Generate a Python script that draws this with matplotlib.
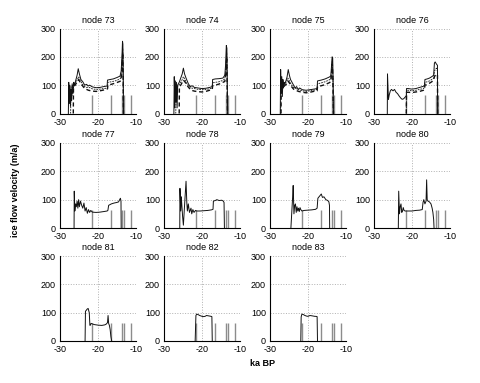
import numpy as np
import matplotlib
matplotlib.use('Agg')
import matplotlib.pyplot as plt

plt.rcParams['font.family'] = ['Liberation Sans', 'DejaVu Sans']
plt.rcParams['axes.unicode_minus'] = False

# grey marker bars (ka BP), same in every panel
bar_t = [-21.7, -16.6, -13.6, -13.1, -11.2]
bar_h = 65

# ---- node 73 ----
n73_solid_t = [-27.8, -27.7, -27.55, -27.4, -27.25, -27.1, -26.95, -26.8, -26.6, -26.4, -26.2, -25.9, -25.5,
               -25.2, -24.9, -24.5, -24.0, -23.5, -23.0, -22.6, -22.2, -21.5, -20.5, -19.5, -18.5, -17.6,
               -17.5, -16.8, -16.0, -15.0, -14.2, -13.9, -13.7, -13.55, -13.45, -13.35, -13.3]
n73_solid_v = [0, 110, 35, 100, 25, 85, 45, 105, 70, 110, 100, 115, 135, 158, 140, 120, 112, 100, 103, 97, 100,
               94, 91, 92, 95, 97, 118, 120, 122, 127, 132, 150, 200, 255, 245, 120, 0]
n73_mid_t = [-27.2, -27.1, -26.9, -26.7, -26.5, -26.2, -25.8, -25.4, -25.1, -24.7, -24.2, -23.5, -23.0, -22.5,
             -21.5, -20.5, -19.5, -18.5, -17.5, -17.4, -16.5, -15.5, -14.5, -14.0, -13.7, -13.5, -13.4, -13.3]
n73_mid_v = [0, 95, 60, 100, 90, 105, 110, 120, 130, 118, 105, 95, 92, 93, 87, 85, 86, 88, 90, 110, 112, 115,
             120, 125, 170, 230, 150, 0]
n73_dash_t = [-26.5, -26.45, -26.0, -25.5, -25.1, -24.7, -24.2, -23.5, -23.0, -22.5, -21.5, -20.5, -19.5, -18.5,
              -17.5, -17.4, -16.5, -15.5, -14.5, -14.0, -13.7, -13.5, -13.4, -13.3]
n73_dash_v = [0, 95, 100, 112, 120, 110, 100, 88, 85, 82, 79, 78, 80, 83, 87, 100, 103, 107, 112, 115, 150, 215,
              150, 0]

# ---- node 74 ----
n74_solid_t = [-27.4, -27.3, -27.15, -27.0, -26.85, -26.7, -26.55, -26.4, -26.2, -26.0, -25.6, -25.2, -24.9,
               -24.6, -24.2, -23.6, -23.1, -22.6, -22.0, -21.0, -20.0, -19.0, -18.0, -17.3, -17.2, -16.5, -15.5,
               -14.5, -14.0, -13.8, -13.6, -13.45, -13.35, -13.25]
n74_solid_v = [0, 130, 20, 115, 40, 110, 20, 100, 105, 110, 125, 140, 160, 140, 125, 105, 95, 98, 92, 90, 88, 89,
               92, 95, 120, 122, 123, 125, 135, 170, 240, 230, 100, 0]
n74_mid_t = [-26.9, -26.8, -26.5, -26.1, -25.6, -25.2, -24.9, -24.5, -24.0, -23.4, -22.8, -22.0, -21.0, -20.0,
             -19.0, -18.0, -17.3, -17.2, -16.5, -15.5, -14.5, -14.0, -13.7, -13.5, -13.4, -13.3]
n74_mid_v = [0, 90, 95, 100, 110, 120, 130, 120, 105, 95, 90, 88, 85, 84, 85, 87, 90, 108, 110, 112, 117, 122,
             160, 215, 140, 0]
n74_dash_t = [-26.0, -25.95, -25.6, -25.2, -24.9, -24.5, -24.0, -23.4, -22.8, -22.0, -21.0, -20.0, -19.0, -18.0,
              -17.3, -17.2, -16.5, -15.5, -14.5, -14.0, -13.7, -13.5, -13.4, -13.3]
n74_dash_v = [0, 95, 100, 110, 118, 112, 100, 90, 82, 79, 77, 76, 78, 82, 85, 98, 100, 104, 110, 113, 145, 200,
              130, 0]

# ---- node 75 ----
n75_solid_t = [-27.3, -27.2, -27.05, -26.9, -26.75, -26.6, -26.45, -26.3, -26.1, -25.8, -25.5, -25.2, -24.9,
               -24.6, -24.2, -23.8, -23.4, -23.0, -22.6, -22.2, -21.5, -20.5, -19.5, -18.5, -17.6, -17.5, -16.5,
               -15.5, -14.5, -14.0, -13.8, -13.65, -13.5, -13.4, -13.3]
n75_solid_v = [0, 155, 70, 130, 60, 120, 90, 110, 105, 115, 130, 155, 135, 120, 110, 100, 90, 95, 85, 90, 84,
               82, 84, 86, 88, 115, 118, 122, 128, 132, 170, 200, 195, 120, 0]
n75_mid_t = [-27.2, -27.1, -26.8, -26.4, -26.0, -25.6, -25.3, -24.9, -24.4, -23.8, -23.2, -22.5, -21.5, -20.5,
             -19.5, -18.5, -17.6, -17.5, -16.5, -15.5, -14.5, -14.0, -13.75, -13.6, -13.45, -13.3]
n75_mid_v = [0, 90, 95, 100, 105, 115, 125, 115, 102, 92, 88, 84, 80, 78, 80, 82, 85, 105, 108, 112, 118, 122,
             160, 190, 130, 0]
n75_dash_t = [-27.1, -27.05, -26.6, -26.0, -25.6, -25.3, -24.9, -24.4, -23.8, -23.2, -22.5, -21.5, -20.5, -19.5,
              -18.5, -17.6, -17.5, -16.5, -15.5, -14.5, -14.0, -13.75, -13.6, -13.45, -13.3]
n75_dash_v = [0, 85, 92, 100, 105, 115, 108, 96, 86, 82, 78, 75, 73, 75, 78, 80, 95, 98, 102, 108, 112, 150, 175,
              120, 0]

# ---- node 76 ----
n76_solid_t = [-26.5, -26.45, -26.2, -26.0, -25.7, -25.4, -25.0, -24.6, -24.2, -23.8, -23.4, -23.0, -22.6,
               -22.2, -21.8, -21.5, -21.45, -21.0, -20.0, -19.0, -18.0, -17.0, -16.7, -16.6, -16.0, -15.4, -14.8,
               -14.3, -14.1, -13.9, -13.6, -13.3, -13.25]
n76_solid_v = [0, 140, 50, 65, 80, 85, 80, 85, 75, 70, 62, 55, 50, 52, 58, 62, 88, 88, 86, 88, 92, 96, 100, 120,
               122, 125, 130, 135, 178, 182, 175, 170, 0]
n76_mid_t = [-21.5, -21.45, -21.0, -20.0, -19.0, -18.0, -17.0, -16.7, -16.6, -16.0, -15.4, -14.8, -14.3, -14.1,
             -13.6, -13.3, -13.25]
n76_mid_v = [0, 82, 82, 80, 82, 85, 88, 92, 110, 112, 115, 120, 125, 150, 160, 150, 0]
n76_dash_t = [-21.5, -21.45, -21.0, -20.0, -19.0, -18.0, -17.0, -16.7, -16.6, -16.0, -15.4, -14.8, -14.3, -14.1,
              -13.6, -13.3, -13.25]
n76_dash_v = [0, 75, 75, 74, 76, 78, 82, 85, 100, 103, 107, 112, 118, 130, 140, 135, 0]

# ---- nodes 77-83 (single run) ----
n77_t = [-26.3, -26.25, -26.1, -25.9, -25.7, -25.5, -25.3, -25.1, -24.9, -24.6, -24.3, -24.0, -23.7, -23.4,
         -23.1, -22.8, -22.5, -22.2, -21.9, -21.5, -20.5, -19.5, -18.5, -17.6, -17.4, -17.2, -16.5, -15.8, -15.1,
         -14.6, -14.3, -14.1, -13.95, -13.9]
n77_v = [0, 130, 60, 85, 75, 95, 70, 100, 75, 95, 80, 70, 88, 60, 72, 52, 65, 55, 62, 56, 55, 56, 58, 60, 62, 80,
         85, 88, 90, 92, 100, 105, 95, 0]
n78_t = [-25.85, -25.8, -25.6, -25.45, -25.3, -25.1, -24.9, -24.5, -24.2, -24.0, -23.85, -23.6, -23.3, -22.9,
         -22.7, -22.4, -22.1, -21.7, -21.4, -20.5, -19.5, -18.5, -17.5, -17.1, -17.0, -16.5, -16.1, -15.5, -14.8,
         -14.4, -14.2, -14.1]
n78_v = [0, 140, 60, 110, 80, 40, 10, 100, 165, 90, 60, 85, 55, 70, 50, 65, 55, 62, 60, 60, 61, 62, 64, 66, 95,
         97, 100, 97, 98, 95, 90, 0]
n79_t = [-24.5, -24.0, -23.9, -23.7, -23.5, -23.3, -23.1, -22.9, -22.7, -22.5, -22.3, -22.1, -21.9, -21.6, -21.0,
         -20.0, -19.0, -18.0, -17.6, -17.4, -17.1, -16.8, -16.5, -16.2, -15.8, -15.3, -14.8, -14.5, -14.35, -14.3]
n79_v = [0, 120, 150, 50, 80, 85, 55, 75, 60, 70, 58, 72, 65, 60, 62, 63, 64, 66, 70, 105, 110, 115, 120, 108,
         110, 100, 97, 92, 80, 0]
n80_t = [-23.6, -23.5, -23.3, -23.1, -22.9, -22.7, -22.5, -22.3, -22.1, -21.8, -21.0, -20.0, -19.0, -18.0, -17.3,
         -17.1, -16.9, -16.6, -16.3, -16.15, -16.0, -15.8, -15.4, -15.0, -14.7, -14.5, -14.3, -14.2]
n80_v = [0, 130, 50, 75, 85, 55, 60, 72, 62, 60, 60, 60, 62, 63, 65, 90, 100, 85, 95, 170, 100, 95, 92, 85, 70,
         55, 30, 0]
n81_t = [-23.4, -23.3, -23.1, -22.9, -22.6, -22.3, -22.15, -22.1, -21.8, -21.0, -20.0, -19.0, -18.2, -17.8,
         -17.5, -17.35, -17.2, -17.0, -16.8, -16.6, -16.4]
n81_v = [0, 105, 108, 112, 115, 100, 60, 55, 62, 58, 56, 55, 57, 60, 65, 90, 62, 55, 40, 15, 0]
n82_t = [-21.8, -21.6, -21.4, -21.0, -20.6, -20.2, -19.7, -19.2, -18.8, -18.4, -18.0, -17.6, -17.4, -17.3]
n82_v = [0, 90, 95, 93, 90, 88, 86, 87, 90, 89, 88, 87, 86, 0]
n83_t = [-21.9, -21.8, -21.6, -21.2, -20.8, -20.4, -20.0, -19.5, -19.0, -18.6, -18.2, -17.9, -17.6, -17.5]
n83_v = [0, 85, 95, 93, 90, 88, 87, 90, 89, 88, 87, 87, 86, 0]

panels = [
    ('node 73', (n73_solid_t, n73_solid_v), (n73_mid_t, n73_mid_v), (n73_dash_t, n73_dash_v)),
    ('node 74', (n74_solid_t, n74_solid_v), (n74_mid_t, n74_mid_v), (n74_dash_t, n74_dash_v)),
    ('node 75', (n75_solid_t, n75_solid_v), (n75_mid_t, n75_mid_v), (n75_dash_t, n75_dash_v)),
    ('node 76', (n76_solid_t, n76_solid_v), (n76_mid_t, n76_mid_v), (n76_dash_t, n76_dash_v)),
    ('node 77', (n77_t, n77_v), None, None),
    ('node 78', (n78_t, n78_v), None, None),
    ('node 79', (n79_t, n79_v), None, None),
    ('node 80', (n80_t, n80_v), None, None),
    ('node 81', (n81_t, n81_v), None, None),
    ('node 82', (n82_t, n82_v), None, None),
    ('node 83', (n83_t, n83_v), None, None),
]

W, H = 480, 383
fig = plt.figure(figsize=(W / 100, H / 100), dpi=100)
fig.patch.set_facecolor('white')

lefts = [60, 164, 270, 374]
bottoms = [113.5, 228, 341]
aw, ah = 76, 85

for i, (title, solid, mid, dash) in enumerate(panels):
    r, c = divmod(i, 4)
    ax = fig.add_axes([lefts[c] / W, 1 - bottoms[r] / H, aw / W, ah / H])
    ax.vlines(bar_t, 0, bar_h, color='#8c8c8c', lw=1.0, zorder=1)
    ax.plot(solid[0], solid[1], color='#111111', lw=0.7, zorder=3)
    if mid is not None:
        ax.plot(mid[0], mid[1], color='#111111', lw=0.6, ls=(0, (2, 1.2)), zorder=3)
    if dash is not None:
        ax.plot(dash[0], dash[1], color='#111111', lw=1.0, ls=(0, (3, 2)), zorder=3)
    ax.set_xlim(-30, -10)
    ax.set_ylim(0, 300)
    ax.set_xticks([-30, -20, -10])
    ax.set_yticks([0, 100, 200, 300])
    ax.grid(True, ls=':', color='#b0b0b0', lw=0.7)
    ax.set_axisbelow(True)
    for s in ['top', 'right']:
        ax.spines[s].set_visible(False)
    for s in ['left', 'bottom']:
        ax.spines[s].set_linewidth(0.8)
    ax.tick_params(length=0, pad=3, labelsize=6.5)
    ax.set_title(title, fontsize=6.5, pad=4)

fig.text(16 / W, 1 - 190 / H, 'ice flow velocity (m/a)', rotation=90, fontsize=6.5,
         fontweight='bold', ha='center', va='center')
fig.text(263 / W, 1 - 364 / H, 'ka BP', fontsize=6.5, fontweight='bold', ha='center', va='center')

fig.savefig('out.png', dpi=100)
